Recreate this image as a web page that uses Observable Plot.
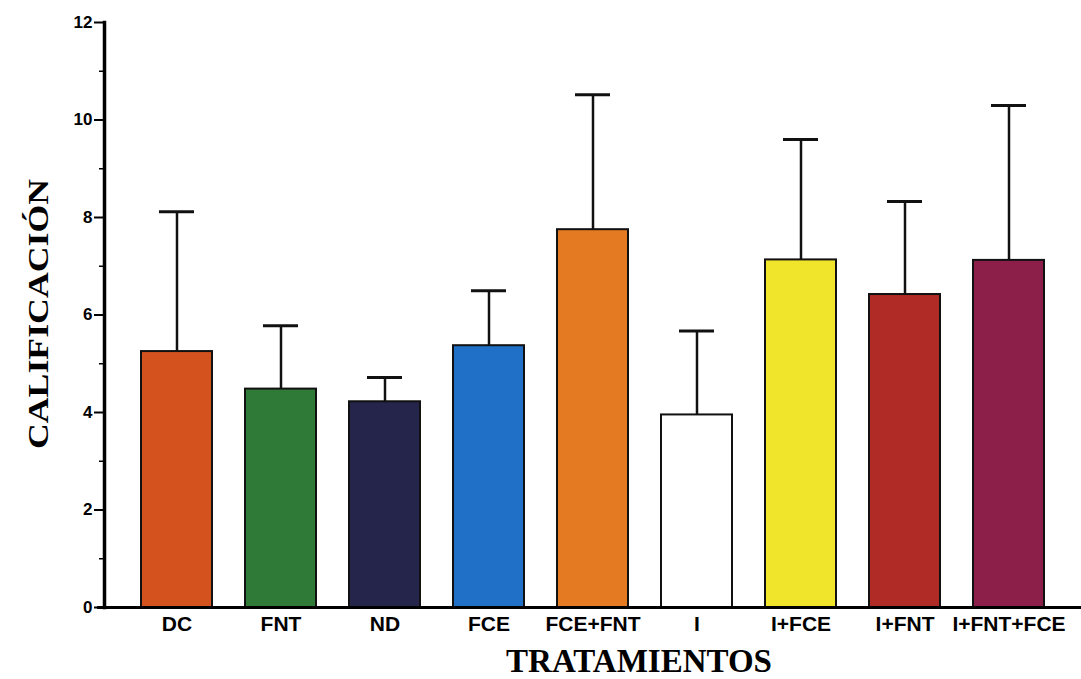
<!DOCTYPE html>
<html>
<head>
<meta charset="utf-8">
<script src="https://cdn.jsdelivr.net/npm/d3@7"></script>
<script src="https://cdn.jsdelivr.net/npm/@observablehq/plot@0.6"></script>
<style>
  html, body { margin: 0; padding: 0; background: #fff; }
  #chart { width: 1081px; height: 679px; }
</style>
</head>
<body>
<div id="chart"></div>
<script>
// Treatments and their mean score with the upper error (standard deviation)
const categories = ["DC", "FNT", "ND", "FCE", "FCE+FNT", "I", "I+FCE", "I+FNT", "I+FNT+FCE"];
const means = [5.25, 4.48, 4.22, 5.37, 7.75, 3.95, 7.13, 6.42, 7.12];
const errors = [2.87, 1.30, 0.50, 1.13, 2.77, 1.72, 2.47, 1.91, 3.18];
const fills = ["#d4521e", "#2f7a37", "#25244b", "#1f70c6", "#e47b22", "#ffffff", "#f1e52b", "#b02a26", "#8c1f4a"];
const yTicks = [0, 2, 4, 6, 8, 10, 12];
const yMinorTicks = [1, 3, 5, 7, 9, 11];
const xTitle = "TRATAMIENTOS";
const yTitle = "CALIFICACIÓN";

const data = categories.map((name, i) => ({
  name,
  mean: means[i],
  upper: means[i] + errors[i],
  fill: fills[i]
}));

const serif = "'Liberation Serif', 'Times New Roman', serif";
const yTitleLength = 270;

const chart = Plot.plot({
  width: 1081,
  height: 679,
  marginTop: 22,
  marginBottom: 72,
  marginLeft: 104,
  marginRight: 0,
  style: { background: "#fff", fontFamily: "'Liberation Sans', Arial, sans-serif", color: "#000" },
  x: { domain: categories, paddingInner: 0.314, paddingOuter: 0.324, label: null },
  y: { domain: [0, 12], label: null },
  color: { type: "identity" },
  marks: [
    // error bars: stem and cap above each bar
    Plot.ruleX(data, { x: "name", y1: "mean", y2: "upper", stroke: "#111", strokeWidth: 2.5 }),
    Plot.tickY(data, { x: "name", y: "upper", stroke: "#111", strokeWidth: 3, insetLeft: 18, insetRight: 18 }),
    Plot.barY(data, { x: "name", y: "mean", fill: "fill", stroke: "#111", strokeWidth: 2 }),
    // axes
    Plot.axisY({ ticks: yTicks, tickSize: 10, tickPadding: 2, fontSize: 17, fontWeight: "bold", strokeWidth: 2, label: null }),
    Plot.axisY({ ticks: yMinorTicks, tickSize: 5, strokeWidth: 1.5, tickFormat: () => "", label: null }),
    Plot.axisX({ tickSize: 0, tickPadding: 9, fontSize: 21, fontWeight: "bold", label: null }),
    Plot.frame({ anchor: "left", stroke: "#000", strokeWidth: 3.5 }),
    Plot.ruleY([0], { stroke: "#000", strokeWidth: 3, insetLeft: -7 }),
    // axis titles
    Plot.text([xTitle], { text: d => d, frameAnchor: "bottom", dx: 46, dy: 64, fontSize: 33, fontWeight: "bold", fontFamily: serif, fill: "#000" }),
    Plot.text([yTitle], { text: d => d, frameAnchor: "left", rotate: -90, dx: -66, dy: -1, fontSize: 30, fontWeight: "bold", fontFamily: serif, fill: "#000" })
  ]
});

// stretch the vertical title along its baseline, keeping it centred on the frame
chart.querySelectorAll("text").forEach(t => {
  if (t.textContent === yTitle) {
    t.setAttribute("text-anchor", "start");
    t.setAttribute("x", -yTitleLength / 2);
    t.setAttribute("textLength", yTitleLength);
    t.setAttribute("lengthAdjust", "spacingAndGlyphs");
  }
});

document.getElementById("chart").append(chart);
</script>
</body>
</html>
